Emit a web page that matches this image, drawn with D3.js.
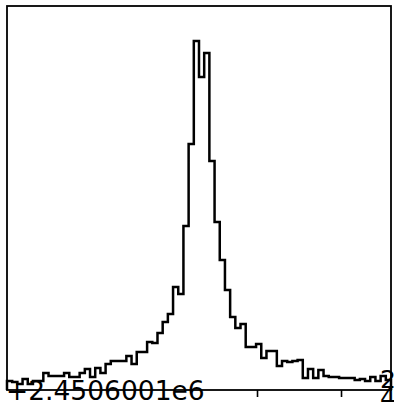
<!DOCTYPE html>
<html>
<head>
<meta charset="utf-8">
<script src="https://cdn.jsdelivr.net/npm/d3@7"></script>
<style>
  html, body { margin: 0; padding: 0; background: #fff; overflow: hidden; }
  svg { display: block; }
</style>
</head>
<body>
<svg id="chart" width="394" height="402"></svg>
<script>
// ---- data ----
const xMin = -0.976;          // relative to offset 2450600.1
const xMax = 3.595;
const offsetLabel = "+2.4506001e6";
const tickValues = [2, 3];
// bin counts (74 equal-width bins across [xMin, xMax])
const counts = [
  9, 8, 6, 11, 6, 9, 9, 17, 14, 14,
  14, 17, 13, 13, 17, 21, 13, 22, 17, 26,
  29, 29, 29, 34, 26, 38, 38, 48, 47, 57,
  68, 76, 103, 96, 164, 246, 349, 313, 337, 229,
  168, 130, 100, 73, 62, 66, 43, 43, 46, 32,
  39, 39, 24, 29, 28, 29, 30, 12, 21, 12,
  20, 14, 13, 13, 12, 12, 12, 10, 11, 9,
  13, 9, 14, 10
];
const yMax = 384;

// ---- layout ----
const svg = d3.select("#chart");
const mLeft = 7, mRight = 391, mTop = 6, mBottom = 390;

const x = d3.scaleLinear().domain([xMin, xMax]).range([mLeft, mRight]);
const y = d3.scaleLinear().domain([0, yMax]).range([mBottom, mTop]);

const n = counts.length;
const binW = (xMax - xMin) / n;
const pts = [[xMin, 0]];
counts.forEach((c, i) => {
  pts.push([xMin + i * binW, c]);
  pts.push([xMin + (i + 1) * binW, c]);
});
pts.push([xMax, 0]);

const line = d3.line().x(d => x(d[0])).y(d => y(d[1]));

svg.append("path")
  .attr("d", line(pts))
  .attr("fill", "none")
  .attr("stroke", "#000")
  .attr("stroke-width", 2.5)
  .attr("stroke-linejoin", "miter");

// frame
svg.append("rect")
  .attr("x", mLeft).attr("y", mTop)
  .attr("width", mRight - mLeft).attr("height", mBottom - mTop)
  .attr("fill", "none").attr("stroke", "#000").attr("stroke-width", 1.8);

// bottom ticks
const xAxis = d3.axisBottom(x).tickValues(tickValues).tickSize(7).tickFormat("");
const gx = svg.append("g").attr("transform", `translate(0,${mBottom})`).call(xAxis);
gx.select(".domain").remove();
gx.selectAll(".tick line").attr("stroke", "#000").attr("stroke-width", 1.6);

// offset text
svg.append("text")
  .attr("x", 6).attr("y", 400)
  .attr("font-family", "DejaVu Sans")
  .attr("font-size", 26.5)
  .attr("fill", "#000")
  .text(offsetLabel);

// clipped labels at bottom-right corner
svg.append("text")
  .attr("x", 380).attr("y", 388)
  .attr("font-family", "DejaVu Sans")
  .attr("font-size", 25)
  .attr("fill", "#000")
  .text("2");
svg.append("text")
  .attr("x", 380).attr("y", 406)
  .attr("font-family", "DejaVu Sans")
  .attr("font-size", 25)
  .attr("fill", "#000")
  .text("4");
</script>
</body>
</html>
